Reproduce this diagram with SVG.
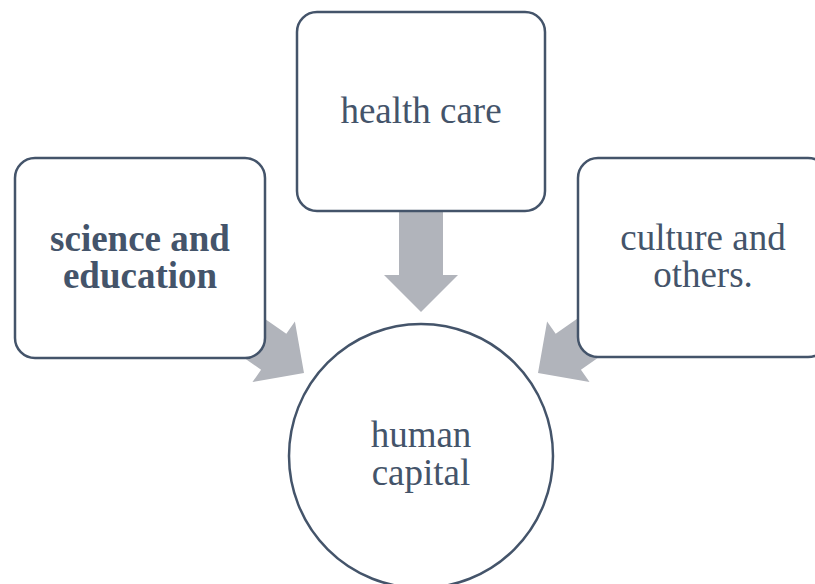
<svg xmlns="http://www.w3.org/2000/svg" width="815" height="584" viewBox="0 0 815 584">
<style>
.box{fill:#ffffff;stroke:#44546a;stroke-width:2.5}
.arr{fill:#b1b4bb}
.t{font-family:"Liberation Serif","Times New Roman",serif;font-size:37px;fill:#44546a;text-anchor:middle}
.b{font-weight:bold}
</style>
<defs>
<path id="arrow" d="M0,0 L-37,-37 L-37,-22 L-130,-22 L-130,22 L-37,22 L-37,37 Z"/>
</defs>
<rect width="815" height="584" fill="#ffffff"/>
<g id="connectors">
<use href="#arrow" class="arr" transform="translate(421,312) rotate(90)"/>
<use href="#arrow" class="arr" transform="translate(304,373) rotate(35)"/>
<use href="#arrow" class="arr" transform="translate(538,373) rotate(145)"/>
</g>
<g id="health">
<rect class="box" x="297" y="12" width="248" height="199" rx="20"/>
<text class="t" x="421" y="123">health care</text>
</g>
<g id="science">
<rect class="box" x="15" y="158" width="250" height="200" rx="20"/>
<text class="t b" x="140" y="251">science and</text>
<text class="t b" x="140" y="288">education</text>
</g>
<g id="culture">
<rect class="box" x="578" y="158" width="250" height="199" rx="20"/>
<text class="t" x="703" y="250">culture and</text>
<text class="t" x="703" y="287">others.</text>
</g>
<g id="human">
<circle class="box" cx="421" cy="456" r="132"/>
<text class="t" x="421" y="447">human</text>
<text class="t" x="421" y="485">capital</text>
</g>
</svg>
